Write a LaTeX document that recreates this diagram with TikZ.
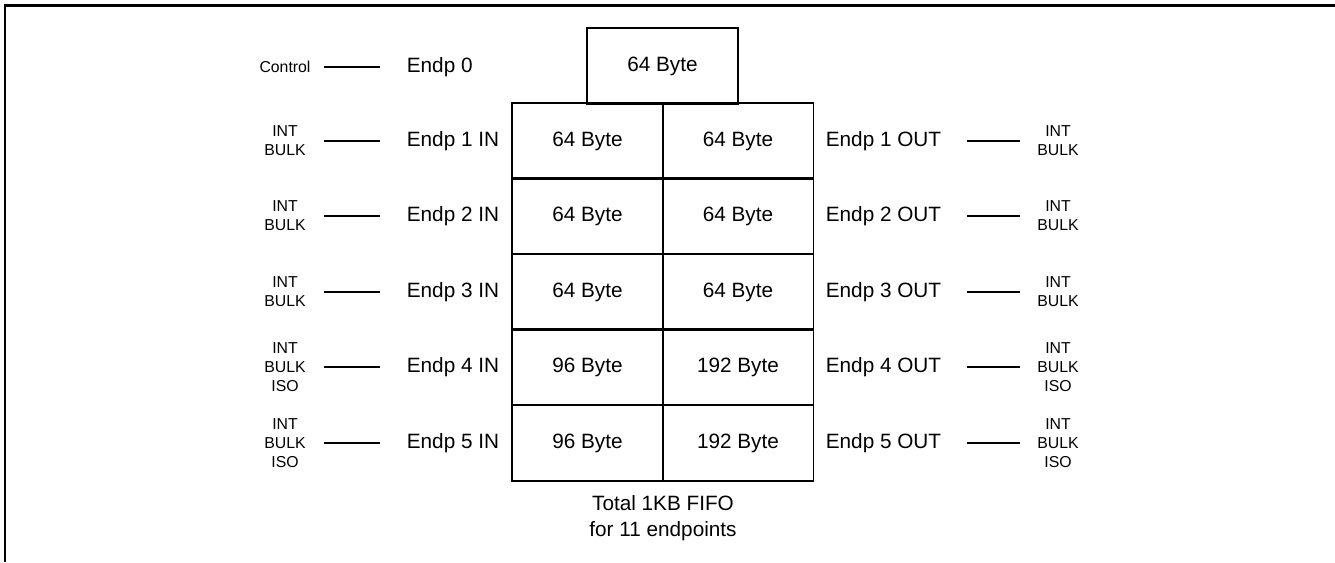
\documentclass[tikz,border=0pt]{standalone}
\usepackage{fontspec}
\setmainfont{Liberation Sans}
\usetikzlibrary{positioning}

\begin{document}
\begin{tikzpicture}[x=0.02cm, y=-0.02cm, font=\fontsize{11.8}{14.7}\selectfont, line width=1pt,
		cell/.style={draw, minimum width=3.02cm, minimum height=1.51cm, inner sep=0pt},
		endp/.style={anchor=west, inner sep=0pt},
		kind/.style={align=center, minimum width=1.2cm, inner sep=0pt, font=\fontsize{9}{10.8}\selectfont},
		wirein/.style={line width=1pt, shorten <=0.16cm, shorten >=0.52cm},
		wireout/.style={line width=1pt, shorten <=0.5cm, shorten >=0.14cm}]
			\useasboundingbox (0,0) rectangle (1335,562);
			\draw[line width=1.4pt] (1335,5.5) -| (5,562);
			% control endpoint
			\node[cell] (buf0) at (662.5,66) {64 Byte};
			\node[kind] (k0) at (285,67) {Control};
			\node[endp] (ep0) at (406,67) {Endp 0};
			\draw[wirein] (k0.east) -- (ep0.west);
			% IN / OUT endpoints
			\foreach \n/\y/\a/\b/\k in {1/141/64/64/{INT\\BULK}, 2/216/64/64/{INT\\BULK},
			                            3/292/64/64/{INT\\BULK}, 4/367/96/192/{INT\\BULK\\ISO},
			                            5/443/96/192/{INT\\BULK\\ISO}} {
				\node[cell] (in\n) at (587.5,\y) {\a\ Byte};
				\node[cell] (out\n) at (738,\y) {\b\ Byte};
				\node[endp] (epin\n) at (406,\y) {Endp \n\ IN};
				\node[endp] (epout\n) at (825,\y) {Endp \n\ OUT};
				\node[kind] (kin\n) at (285,\y) {\k};
				\node[kind] (kout\n) at (1058,\y) {\k};
				\draw[wirein] (kin\n.east) -- (epin\n.west);
				\draw[wireout] (epout\n.east) -- (kout\n.west);
			}
			\node[align=center] (total) at (663,518) {Total 1KB FIFO\\for 11 endpoints};
		\end{tikzpicture}
\end{document}
